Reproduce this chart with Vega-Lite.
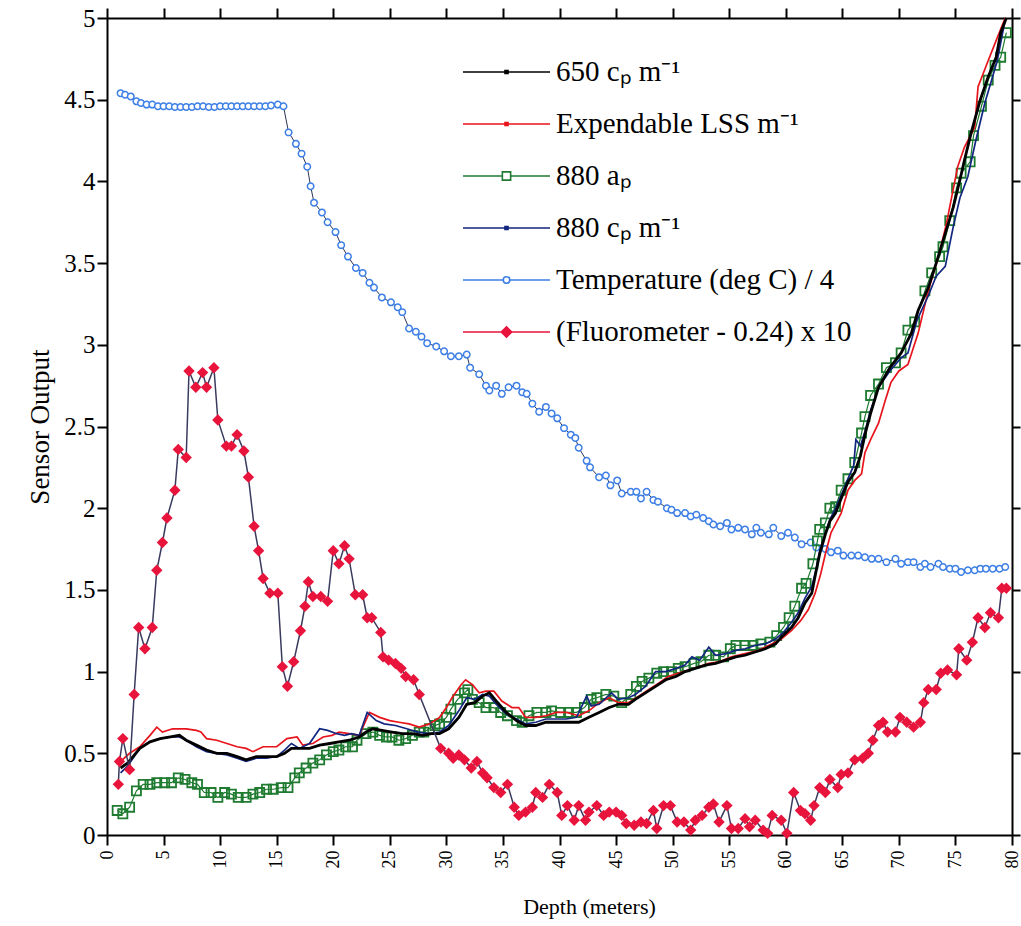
{
  "$schema": "https://vega.github.io/schema/vega-lite/v6.json",
  "width": 905,
  "height": 817,
  "autosize": {"type": "none"},
  "padding": {"left": 107, "top": 18, "right": 9, "bottom": 91},
  "background": "white",
  "config": {
    "view": {"stroke": null},
    "font": "Liberation Serif",
    "axis": {"grid": false, "domainColor": "black", "domainWidth": 2, "tickColor": "black", "tickWidth": 2, "labelColor": "black", "titleColor": "black", "labelFont": "Liberation Serif", "titleFont": "Liberation Serif", "titleFontWeight": "normal"}
  },
  "data": {
    "values": [
      {"series":"temp","depth":1.2,"value":4.54},{"series":"temp","depth":1.6,"value":4.53},{"series":"temp","depth":2.1,"value":4.52},{"series":"temp","depth":2.6,"value":4.49},{"series":"temp","depth":3.0,"value":4.48},{"series":"temp","depth":3.5,"value":4.47},{"series":"temp","depth":4.0,"value":4.47},{"series":"temp","depth":4.5,"value":4.46},{"series":"temp","depth":5.0,"value":4.46},{"series":"temp","depth":5.5,"value":4.46},{"series":"temp","depth":6.0,"value":4.455},{"series":"temp","depth":6.5,"value":4.455},{"series":"temp","depth":7.0,"value":4.455},{"series":"temp","depth":7.5,"value":4.455},{"series":"temp","depth":8.0,"value":4.46},{"series":"temp","depth":8.5,"value":4.46},{"series":"temp","depth":9.0,"value":4.455},{"series":"temp","depth":9.5,"value":4.455},{"series":"temp","depth":10.0,"value":4.46},{"series":"temp","depth":10.5,"value":4.46},{"series":"temp","depth":11.0,"value":4.46},{"series":"temp","depth":11.5,"value":4.46},{"series":"temp","depth":12.0,"value":4.46},{"series":"temp","depth":12.5,"value":4.46},{"series":"temp","depth":13.0,"value":4.46},{"series":"temp","depth":13.5,"value":4.46},{"series":"temp","depth":14.0,"value":4.46},{"series":"temp","depth":14.5,"value":4.465},{"series":"temp","depth":15.1,"value":4.47},{"series":"temp","depth":15.6,"value":4.46},{"series":"temp","depth":16.05,"value":4.3},{"series":"temp","depth":16.7,"value":4.23},{"series":"temp","depth":17.2,"value":4.17},{"series":"temp","depth":17.7,"value":4.09},{"series":"temp","depth":18.0,"value":3.97},{"series":"temp","depth":18.3,"value":3.87},{"series":"temp","depth":19.0,"value":3.81},{"series":"temp","depth":19.5,"value":3.75},{"series":"temp","depth":20.2,"value":3.69},{"series":"temp","depth":20.7,"value":3.61},{"series":"temp","depth":21.3,"value":3.54},{"series":"temp","depth":22.0,"value":3.47},{"series":"temp","depth":22.6,"value":3.44},{"series":"temp","depth":23.2,"value":3.38},{"series":"temp","depth":23.6,"value":3.35},{"series":"temp","depth":24.3,"value":3.29},{"series":"temp","depth":25.1,"value":3.26},{"series":"temp","depth":25.7,"value":3.23},{"series":"temp","depth":26.1,"value":3.2},{"series":"temp","depth":26.7,"value":3.1},{"series":"temp","depth":27.3,"value":3.08},{"series":"temp","depth":27.8,"value":3.05},{"series":"temp","depth":28.3,"value":3.01},{"series":"temp","depth":29.1,"value":2.99},{"series":"temp","depth":29.8,"value":2.96},{"series":"temp","depth":30.4,"value":2.93},{"series":"temp","depth":31.1,"value":2.93},{"series":"temp","depth":31.8,"value":2.94},{"series":"temp","depth":32.1,"value":2.86},{"series":"temp","depth":32.9,"value":2.82},{"series":"temp","depth":33.5,"value":2.75},{"series":"temp","depth":33.8,"value":2.72},{"series":"temp","depth":34.4,"value":2.75},{"series":"temp","depth":34.9,"value":2.7},{"series":"temp","depth":35.5,"value":2.74},{"series":"temp","depth":36.2,"value":2.75},{"series":"temp","depth":36.7,"value":2.71},{"series":"temp","depth":37.1,"value":2.7},{"series":"temp","depth":37.6,"value":2.64},{"series":"temp","depth":38.2,"value":2.59},{"series":"temp","depth":38.8,"value":2.62},{"series":"temp","depth":39.3,"value":2.58},{"series":"temp","depth":39.8,"value":2.55},{"series":"temp","depth":40.4,"value":2.49},{"series":"temp","depth":41.0,"value":2.45},{"series":"temp","depth":41.4,"value":2.43},{"series":"temp","depth":41.7,"value":2.37},{"series":"temp","depth":42.4,"value":2.29},{"series":"temp","depth":42.7,"value":2.25},{"series":"temp","depth":43.5,"value":2.19},{"series":"temp","depth":44.1,"value":2.2},{"series":"temp","depth":44.5,"value":2.14},{"series":"temp","depth":45.1,"value":2.17},{"series":"temp","depth":45.5,"value":2.09},{"series":"temp","depth":46.3,"value":2.1},{"series":"temp","depth":46.8,"value":2.1},{"series":"temp","depth":47.2,"value":2.06},{"series":"temp","depth":47.7,"value":2.1},{"series":"temp","depth":48.3,"value":2.05},{"series":"temp","depth":48.7,"value":2.04},{"series":"temp","depth":49.5,"value":2.0},{"series":"temp","depth":49.9,"value":1.99},{"series":"temp","depth":50.4,"value":1.97},{"series":"temp","depth":51.1,"value":1.97},{"series":"temp","depth":51.6,"value":1.95},{"series":"temp","depth":52.1,"value":1.96},{"series":"temp","depth":52.7,"value":1.94},{"series":"temp","depth":53.2,"value":1.92},{"series":"temp","depth":53.6,"value":1.9},{"series":"temp","depth":54.2,"value":1.89},{"series":"temp","depth":54.8,"value":1.91},{"series":"temp","depth":55.2,"value":1.87},{"series":"temp","depth":55.8,"value":1.88},{"series":"temp","depth":56.4,"value":1.87},{"series":"temp","depth":57.0,"value":1.84},{"series":"temp","depth":57.4,"value":1.88},{"series":"temp","depth":57.8,"value":1.85},{"series":"temp","depth":58.5,"value":1.84},{"series":"temp","depth":58.9,"value":1.88},{"series":"temp","depth":59.6,"value":1.83},{"series":"temp","depth":60.2,"value":1.85},{"series":"temp","depth":60.8,"value":1.82},{"series":"temp","depth":61.4,"value":1.78},{"series":"temp","depth":62.2,"value":1.79},{"series":"temp","depth":62.7,"value":1.76},{"series":"temp","depth":63.5,"value":1.75},{"series":"temp","depth":64.0,"value":1.73},{"series":"temp","depth":64.6,"value":1.74},{"series":"temp","depth":65.1,"value":1.71},{"series":"temp","depth":65.8,"value":1.71},{"series":"temp","depth":66.4,"value":1.71},{"series":"temp","depth":67.0,"value":1.7},{"series":"temp","depth":67.6,"value":1.69},{"series":"temp","depth":68.2,"value":1.69},{"series":"temp","depth":68.9,"value":1.67},{"series":"temp","depth":69.7,"value":1.69},{"series":"temp","depth":70.2,"value":1.66},{"series":"temp","depth":70.8,"value":1.67},{"series":"temp","depth":71.3,"value":1.67},{"series":"temp","depth":71.9,"value":1.64},{"series":"temp","depth":72.3,"value":1.66},{"series":"temp","depth":72.8,"value":1.64},{"series":"temp","depth":73.5,"value":1.66},{"series":"temp","depth":73.9,"value":1.64},{"series":"temp","depth":74.5,"value":1.63},{"series":"temp","depth":75.0,"value":1.63},{"series":"temp","depth":75.5,"value":1.61},{"series":"temp","depth":76.1,"value":1.62},{"series":"temp","depth":76.7,"value":1.62},{"series":"temp","depth":77.2,"value":1.63},{"series":"temp","depth":77.7,"value":1.63},{"series":"temp","depth":78.3,"value":1.63},{"series":"temp","depth":78.9,"value":1.63},{"series":"temp","depth":79.4,"value":1.64},

      {"series":"fluor","depth":1.0,"value":0.31},{"series":"fluor","depth":1.1,"value":0.45},{"series":"fluor","depth":1.4,"value":0.59},{"series":"fluor","depth":2.0,"value":0.4},{"series":"fluor","depth":2.4,"value":0.86},{"series":"fluor","depth":2.8,"value":1.27},{"series":"fluor","depth":3.35,"value":1.14},{"series":"fluor","depth":4.0,"value":1.27},{"series":"fluor","depth":4.4,"value":1.62},{"series":"fluor","depth":4.9,"value":1.79},{"series":"fluor","depth":5.3,"value":1.94},{"series":"fluor","depth":6.0,"value":2.11},{"series":"fluor","depth":6.3,"value":2.36},{"series":"fluor","depth":7.0,"value":2.31},{"series":"fluor","depth":7.25,"value":2.84},{"series":"fluor","depth":7.85,"value":2.74},{"series":"fluor","depth":8.45,"value":2.83},{"series":"fluor","depth":8.8,"value":2.74},{"series":"fluor","depth":9.45,"value":2.86},{"series":"fluor","depth":9.8,"value":2.54},{"series":"fluor","depth":10.55,"value":2.38},{"series":"fluor","depth":11.0,"value":2.38},{"series":"fluor","depth":11.5,"value":2.45},{"series":"fluor","depth":12.1,"value":2.35},{"series":"fluor","depth":12.5,"value":2.19},{"series":"fluor","depth":13.0,"value":1.89},{"series":"fluor","depth":13.4,"value":1.74},{"series":"fluor","depth":13.8,"value":1.57},{"series":"fluor","depth":14.4,"value":1.48},{"series":"fluor","depth":15.1,"value":1.48},{"series":"fluor","depth":15.5,"value":1.03},{"series":"fluor","depth":15.95,"value":0.91},{"series":"fluor","depth":16.5,"value":1.06},{"series":"fluor","depth":17.1,"value":1.25},{"series":"fluor","depth":17.5,"value":1.4},{"series":"fluor","depth":17.8,"value":1.55},{"series":"fluor","depth":18.2,"value":1.46},{"series":"fluor","depth":18.9,"value":1.46},{"series":"fluor","depth":19.5,"value":1.43},{"series":"fluor","depth":20.0,"value":1.74},{"series":"fluor","depth":20.5,"value":1.66},{"series":"fluor","depth":21.0,"value":1.77},{"series":"fluor","depth":21.4,"value":1.69},{"series":"fluor","depth":21.95,"value":1.47},{"series":"fluor","depth":22.6,"value":1.47},{"series":"fluor","depth":23.0,"value":1.33},{"series":"fluor","depth":23.4,"value":1.33},{"series":"fluor","depth":24.2,"value":1.24},{"series":"fluor","depth":24.4,"value":1.09},{"series":"fluor","depth":24.9,"value":1.07},{"series":"fluor","depth":25.5,"value":1.05},{"series":"fluor","depth":26.0,"value":1.02},{"series":"fluor","depth":26.4,"value":0.97},{"series":"fluor","depth":27.1,"value":0.95},{"series":"fluor","depth":27.6,"value":0.86},{"series":"fluor","depth":29.5,"value":0.53},{"series":"fluor","depth":30.2,"value":0.5},{"series":"fluor","depth":30.6,"value":0.47},{"series":"fluor","depth":31.1,"value":0.49},{"series":"fluor","depth":31.6,"value":0.46},{"series":"fluor","depth":32.2,"value":0.41},{"series":"fluor","depth":32.7,"value":0.45},{"series":"fluor","depth":33.2,"value":0.38},{"series":"fluor","depth":33.6,"value":0.35},{"series":"fluor","depth":34.2,"value":0.29},{"series":"fluor","depth":34.8,"value":0.26},{"series":"fluor","depth":35.4,"value":0.31},{"series":"fluor","depth":36.0,"value":0.17},{"series":"fluor","depth":36.4,"value":0.12},{"series":"fluor","depth":37.0,"value":0.14},{"series":"fluor","depth":37.6,"value":0.17},{"series":"fluor","depth":37.9,"value":0.26},{"series":"fluor","depth":38.5,"value":0.23},{"series":"fluor","depth":39.1,"value":0.31},{"series":"fluor","depth":39.8,"value":0.26},{"series":"fluor","depth":40.2,"value":0.12},{"series":"fluor","depth":40.7,"value":0.18},{"series":"fluor","depth":41.3,"value":0.09},{"series":"fluor","depth":41.7,"value":0.18},{"series":"fluor","depth":42.3,"value":0.09},{"series":"fluor","depth":42.6,"value":0.14},{"series":"fluor","depth":43.3,"value":0.18},{"series":"fluor","depth":43.9,"value":0.12},{"series":"fluor","depth":44.4,"value":0.14},{"series":"fluor","depth":45.0,"value":0.14},{"series":"fluor","depth":45.5,"value":0.12},{"series":"fluor","depth":45.9,"value":0.07},{"series":"fluor","depth":46.6,"value":0.06},{"series":"fluor","depth":47.2,"value":0.08},{"series":"fluor","depth":47.7,"value":0.07},{"series":"fluor","depth":48.3,"value":0.15},{"series":"fluor","depth":48.6,"value":0.04},{"series":"fluor","depth":49.2,"value":0.18},{"series":"fluor","depth":49.8,"value":0.18},{"series":"fluor","depth":50.4,"value":0.08},{"series":"fluor","depth":51.0,"value":0.08},{"series":"fluor","depth":51.6,"value":0.03},{"series":"fluor","depth":52.0,"value":0.09},{"series":"fluor","depth":52.6,"value":0.12},{"series":"fluor","depth":53.2,"value":0.17},{"series":"fluor","depth":53.6,"value":0.19},{"series":"fluor","depth":54.1,"value":0.08},{"series":"fluor","depth":54.8,"value":0.18},{"series":"fluor","depth":55.2,"value":0.04},{"series":"fluor","depth":55.8,"value":0.04},{"series":"fluor","depth":56.4,"value":0.1},{"series":"fluor","depth":56.8,"value":0.05},{"series":"fluor","depth":57.3,"value":0.09},{"series":"fluor","depth":58.0,"value":0.03},{"series":"fluor","depth":58.4,"value":0.01},{"series":"fluor","depth":58.8,"value":0.12},{"series":"fluor","depth":59.6,"value":0.09},{"series":"fluor","depth":60.1,"value":0.01},{"series":"fluor","depth":60.7,"value":0.26},{"series":"fluor","depth":61.3,"value":0.15},{"series":"fluor","depth":61.7,"value":0.13},{"series":"fluor","depth":62.2,"value":0.09},{"series":"fluor","depth":62.5,"value":0.18},{"series":"fluor","depth":63.0,"value":0.29},{"series":"fluor","depth":63.5,"value":0.26},{"series":"fluor","depth":63.9,"value":0.34},{"series":"fluor","depth":64.6,"value":0.29},{"series":"fluor","depth":64.9,"value":0.37},{"series":"fluor","depth":65.5,"value":0.38},{"series":"fluor","depth":66.1,"value":0.46},{"series":"fluor","depth":66.8,"value":0.47},{"series":"fluor","depth":67.3,"value":0.5},{"series":"fluor","depth":67.7,"value":0.58},{"series":"fluor","depth":68.2,"value":0.67},{"series":"fluor","depth":68.6,"value":0.69},{"series":"fluor","depth":69.0,"value":0.63},{"series":"fluor","depth":69.7,"value":0.63},{"series":"fluor","depth":70.1,"value":0.72},{"series":"fluor","depth":70.7,"value":0.69},{"series":"fluor","depth":71.3,"value":0.66},{"series":"fluor","depth":71.9,"value":0.69},{"series":"fluor","depth":72.2,"value":0.81},{"series":"fluor","depth":72.6,"value":0.89},{"series":"fluor","depth":73.3,"value":0.89},{"series":"fluor","depth":73.7,"value":0.99},{"series":"fluor","depth":74.3,"value":1.01},{"series":"fluor","depth":75.1,"value":0.98},{"series":"fluor","depth":75.3,"value":1.14},{"series":"fluor","depth":76.0,"value":1.07},{"series":"fluor","depth":76.5,"value":1.18},{"series":"fluor","depth":77.0,"value":1.33},{"series":"fluor","depth":77.6,"value":1.27},{"series":"fluor","depth":78.1,"value":1.36},{"series":"fluor","depth":78.8,"value":1.33},{"series":"fluor","depth":79.1,"value":1.51},{"series":"fluor","depth":79.5,"value":1.51},

      {"series":"c650","depth":1.2,"value":0.41},{"series":"c650","depth":1.8,"value":0.44},{"series":"c650","depth":2.3,"value":0.48},{"series":"c650","depth":2.9,"value":0.53},{"series":"c650","depth":3.8,"value":0.57},{"series":"c650","depth":4.7,"value":0.59},{"series":"c650","depth":5.6,"value":0.6},{"series":"c650","depth":6.4,"value":0.61},{"series":"c650","depth":7.0,"value":0.58},{"series":"c650","depth":7.9,"value":0.55},{"series":"c650","depth":8.8,"value":0.52},{"series":"c650","depth":9.7,"value":0.5},{"series":"c650","depth":10.6,"value":0.5},{"series":"c650","depth":11.5,"value":0.48},{"series":"c650","depth":12.3,"value":0.46},{"series":"c650","depth":13.2,"value":0.48},{"series":"c650","depth":14.1,"value":0.48},{"series":"c650","depth":15.0,"value":0.48},{"series":"c650","depth":15.7,"value":0.5},{"series":"c650","depth":16.3,"value":0.53},{"series":"c650","depth":17.0,"value":0.53},{"series":"c650","depth":17.9,"value":0.53},{"series":"c650","depth":18.8,"value":0.55},{"series":"c650","depth":19.7,"value":0.56},{"series":"c650","depth":20.5,"value":0.57},{"series":"c650","depth":21.4,"value":0.58},{"series":"c650","depth":22.3,"value":0.6},{"series":"c650","depth":22.9,"value":0.63},{"series":"c650","depth":23.5,"value":0.65},{"series":"c650","depth":24.3,"value":0.64},{"series":"c650","depth":25.2,"value":0.63},{"series":"c650","depth":26.1,"value":0.62},{"series":"c650","depth":27.0,"value":0.62},{"series":"c650","depth":27.9,"value":0.61},{"series":"c650","depth":28.7,"value":0.62},{"series":"c650","depth":29.4,"value":0.62},{"series":"c650","depth":30.2,"value":0.65},{"series":"c650","depth":31.1,"value":0.72},{"series":"c650","depth":31.8,"value":0.8},{"series":"c650","depth":32.5,"value":0.81},{"series":"c650","depth":33.2,"value":0.85},{"series":"c650","depth":33.8,"value":0.87},{"series":"c650","depth":34.4,"value":0.82},{"series":"c650","depth":35.3,"value":0.75},{"series":"c650","depth":36.2,"value":0.7},{"series":"c650","depth":37.0,"value":0.67},{"series":"c650","depth":37.9,"value":0.67},{"series":"c650","depth":38.8,"value":0.69},{"series":"c650","depth":39.7,"value":0.69},{"series":"c650","depth":40.6,"value":0.69},{"series":"c650","depth":41.7,"value":0.69},{"series":"c650","depth":42.6,"value":0.72},{"series":"c650","depth":43.5,"value":0.75},{"series":"c650","depth":44.4,"value":0.78},{"series":"c650","depth":45.2,"value":0.8},{"series":"c650","depth":46.1,"value":0.8},{"series":"c650","depth":46.7,"value":0.83},{"series":"c650","depth":47.6,"value":0.87},{"series":"c650","depth":48.5,"value":0.91},{"series":"c650","depth":49.4,"value":0.95},{"series":"c650","depth":50.3,"value":0.97},{"series":"c650","depth":51.1,"value":1.0},{"series":"c650","depth":52.0,"value":1.02},{"series":"c650","depth":52.9,"value":1.04},{"series":"c650","depth":53.8,"value":1.05},{"series":"c650","depth":54.7,"value":1.07},{"series":"c650","depth":55.6,"value":1.09},{"series":"c650","depth":56.4,"value":1.1},{"series":"c650","depth":57.3,"value":1.12},{"series":"c650","depth":58.2,"value":1.14},{"series":"c650","depth":59.1,"value":1.17},{"series":"c650","depth":59.6,"value":1.21},{"series":"c650","depth":60.5,"value":1.27},{"series":"c650","depth":61.1,"value":1.33},{"series":"c650","depth":61.7,"value":1.42},{"series":"c650","depth":62.3,"value":1.48},{"series":"c650","depth":62.7,"value":1.62},{"series":"c650","depth":63.0,"value":1.72},{"series":"c650","depth":63.5,"value":1.84},{"series":"c650","depth":63.9,"value":1.92},{"series":"c650","depth":64.4,"value":1.97},{"series":"c650","depth":64.9,"value":2.06},{"series":"c650","depth":65.5,"value":2.16},{"series":"c650","depth":66.1,"value":2.22},{"series":"c650","depth":66.6,"value":2.32},{"series":"c650","depth":67.0,"value":2.45},{"series":"c650","depth":67.5,"value":2.58},{"series":"c650","depth":68.2,"value":2.74},{"series":"c650","depth":69.2,"value":2.86},{"series":"c650","depth":70.2,"value":2.95},{"series":"c650","depth":71.1,"value":3.07},{"series":"c650","depth":71.7,"value":3.21},{"series":"c650","depth":72.6,"value":3.35},{"series":"c650","depth":73.3,"value":3.5},{"series":"c650","depth":74.1,"value":3.68},{"series":"c650","depth":74.8,"value":3.84},{"series":"c650","depth":75.4,"value":4.01},{"series":"c650","depth":75.8,"value":4.13},{"series":"c650","depth":76.4,"value":4.3},{"series":"c650","depth":77.2,"value":4.5},{"series":"c650","depth":77.9,"value":4.64},{"series":"c650","depth":78.6,"value":4.76},{"series":"c650","depth":79.0,"value":4.91},{"series":"c650","depth":79.5,"value":5.0},

      {"series":"lss","depth":1.2,"value":0.45},{"series":"lss","depth":2.0,"value":0.5},{"series":"lss","depth":2.9,"value":0.54},{"series":"lss","depth":3.8,"value":0.61},{"series":"lss","depth":4.4,"value":0.66},{"series":"lss","depth":4.9,"value":0.63},{"series":"lss","depth":5.8,"value":0.65},{"series":"lss","depth":7.0,"value":0.65},{"series":"lss","depth":7.9,"value":0.64},{"series":"lss","depth":8.3,"value":0.63},{"series":"lss","depth":8.8,"value":0.59},{"series":"lss","depth":9.7,"value":0.58},{"series":"lss","depth":10.6,"value":0.56},{"series":"lss","depth":11.5,"value":0.54},{"series":"lss","depth":12.3,"value":0.53},{"series":"lss","depth":12.9,"value":0.51},{"series":"lss","depth":13.8,"value":0.54},{"series":"lss","depth":15.0,"value":0.54},{"series":"lss","depth":15.9,"value":0.59},{"series":"lss","depth":16.8,"value":0.6},{"series":"lss","depth":17.3,"value":0.55},{"series":"lss","depth":18.2,"value":0.56},{"series":"lss","depth":19.1,"value":0.6},{"series":"lss","depth":19.9,"value":0.61},{"series":"lss","depth":20.5,"value":0.63},{"series":"lss","depth":21.4,"value":0.62},{"series":"lss","depth":22.3,"value":0.61},{"series":"lss","depth":23.2,"value":0.75},{"series":"lss","depth":24.1,"value":0.72},{"series":"lss","depth":25.0,"value":0.7},{"series":"lss","depth":25.8,"value":0.69},{"series":"lss","depth":26.7,"value":0.68},{"series":"lss","depth":27.6,"value":0.66},{"series":"lss","depth":28.5,"value":0.68},{"series":"lss","depth":29.4,"value":0.72},{"series":"lss","depth":30.0,"value":0.78},{"series":"lss","depth":30.5,"value":0.84},{"series":"lss","depth":31.3,"value":0.92},{"series":"lss","depth":31.7,"value":0.95},{"series":"lss","depth":32.3,"value":0.92},{"series":"lss","depth":32.9,"value":0.87},{"series":"lss","depth":33.5,"value":0.88},{"series":"lss","depth":34.2,"value":0.88},{"series":"lss","depth":34.9,"value":0.82},{"series":"lss","depth":35.8,"value":0.78},{"series":"lss","depth":36.4,"value":0.78},{"series":"lss","depth":37.0,"value":0.72},{"series":"lss","depth":37.9,"value":0.72},{"series":"lss","depth":38.8,"value":0.73},{"series":"lss","depth":39.7,"value":0.75},{"series":"lss","depth":40.6,"value":0.75},{"series":"lss","depth":41.7,"value":0.73},{"series":"lss","depth":42.6,"value":0.76},{"series":"lss","depth":43.5,"value":0.81},{"series":"lss","depth":44.4,"value":0.84},{"series":"lss","depth":45.2,"value":0.81},{"series":"lss","depth":46.1,"value":0.81},{"series":"lss","depth":47.0,"value":0.85},{"series":"lss","depth":47.9,"value":0.89},{"series":"lss","depth":48.8,"value":0.93},{"series":"lss","depth":49.6,"value":0.97},{"series":"lss","depth":50.5,"value":0.99},{"series":"lss","depth":51.4,"value":1.01},{"series":"lss","depth":52.3,"value":1.03},{"series":"lss","depth":53.2,"value":1.05},{"series":"lss","depth":54.1,"value":1.06},{"series":"lss","depth":55.2,"value":1.09},{"series":"lss","depth":56.4,"value":1.11},{"series":"lss","depth":57.6,"value":1.13},{"series":"lss","depth":58.8,"value":1.17},{"series":"lss","depth":59.6,"value":1.2},{"series":"lss","depth":60.5,"value":1.25},{"series":"lss","depth":61.3,"value":1.31},{"series":"lss","depth":62.0,"value":1.38},{"series":"lss","depth":62.6,"value":1.48},{"series":"lss","depth":63.1,"value":1.6},{"series":"lss","depth":63.5,"value":1.72},{"series":"lss","depth":64.0,"value":1.85},{"series":"lss","depth":64.9,"value":1.97},{"series":"lss","depth":65.5,"value":2.11},{"series":"lss","depth":66.1,"value":2.17},{"series":"lss","depth":66.7,"value":2.21},{"series":"lss","depth":67.0,"value":2.34},{"series":"lss","depth":67.5,"value":2.42},{"series":"lss","depth":68.2,"value":2.52},{"series":"lss","depth":68.8,"value":2.66},{"series":"lss","depth":69.3,"value":2.77},{"series":"lss","depth":70.0,"value":2.84},{"series":"lss","depth":70.8,"value":2.88},{"series":"lss","depth":71.7,"value":3.07},{"series":"lss","depth":72.6,"value":3.33},{"series":"lss","depth":73.5,"value":3.54},{"series":"lss","depth":74.2,"value":3.74},{"series":"lss","depth":75.2,"value":4.09},{"series":"lss","depth":75.8,"value":4.21},{"series":"lss","depth":76.7,"value":4.33},{"series":"lss","depth":77.0,"value":4.58},{"series":"lss","depth":77.9,"value":4.74},{"series":"lss","depth":78.7,"value":4.88},{"series":"lss","depth":79.4,"value":5.0},

      {"series":"c880","depth":1.2,"value":0.38},{"series":"c880","depth":1.8,"value":0.42},{"series":"c880","depth":2.3,"value":0.47},{"series":"c880","depth":2.9,"value":0.53},{"series":"c880","depth":3.8,"value":0.57},{"series":"c880","depth":4.7,"value":0.59},{"series":"c880","depth":5.6,"value":0.6},{"series":"c880","depth":6.4,"value":0.6},{"series":"c880","depth":7.0,"value":0.58},{"series":"c880","depth":7.9,"value":0.54},{"series":"c880","depth":8.8,"value":0.51},{"series":"c880","depth":9.7,"value":0.5},{"series":"c880","depth":10.6,"value":0.49},{"series":"c880","depth":11.5,"value":0.47},{"series":"c880","depth":12.3,"value":0.45},{"series":"c880","depth":13.2,"value":0.47},{"series":"c880","depth":14.1,"value":0.47},{"series":"c880","depth":15.0,"value":0.48},{"series":"c880","depth":15.7,"value":0.52},{"series":"c880","depth":16.3,"value":0.56},{"series":"c880","depth":17.0,"value":0.53},{"series":"c880","depth":17.9,"value":0.56},{"series":"c880","depth":18.8,"value":0.65},{"series":"c880","depth":19.5,"value":0.64},{"series":"c880","depth":20.3,"value":0.62},{"series":"c880","depth":21.0,"value":0.61},{"series":"c880","depth":21.6,"value":0.62},{"series":"c880","depth":22.3,"value":0.61},{"series":"c880","depth":23.0,"value":0.75},{"series":"c880","depth":23.8,"value":0.7},{"series":"c880","depth":24.5,"value":0.68},{"series":"c880","depth":25.5,"value":0.67},{"series":"c880","depth":26.5,"value":0.65},{"series":"c880","depth":27.5,"value":0.63},{"series":"c880","depth":28.5,"value":0.62},{"series":"c880","depth":29.4,"value":0.63},{"series":"c880","depth":30.2,"value":0.67},{"series":"c880","depth":31.1,"value":0.76},{"series":"c880","depth":31.8,"value":0.84},{"series":"c880","depth":32.5,"value":0.83},{"series":"c880","depth":33.2,"value":0.86},{"series":"c880","depth":33.8,"value":0.85},{"series":"c880","depth":34.4,"value":0.8},{"series":"c880","depth":35.3,"value":0.74},{"series":"c880","depth":36.2,"value":0.71},{"series":"c880","depth":37.0,"value":0.68},{"series":"c880","depth":37.9,"value":0.69},{"series":"c880","depth":38.8,"value":0.71},{"series":"c880","depth":39.7,"value":0.71},{"series":"c880","depth":40.6,"value":0.71},{"series":"c880","depth":41.5,"value":0.72},{"series":"c880","depth":42.4,"value":0.85},{"series":"c880","depth":42.8,"value":0.79},{"series":"c880","depth":43.5,"value":0.8},{"series":"c880","depth":44.6,"value":0.87},{"series":"c880","depth":45.2,"value":0.83},{"series":"c880","depth":46.1,"value":0.84},{"series":"c880","depth":46.7,"value":0.86},{"series":"c880","depth":47.6,"value":0.91},{"series":"c880","depth":48.5,"value":1.0},{"series":"c880","depth":49.4,"value":1.0},{"series":"c880","depth":50.3,"value":1.02},{"series":"c880","depth":51.1,"value":1.04},{"series":"c880","depth":51.7,"value":1.09},{"series":"c880","depth":52.4,"value":1.07},{"series":"c880","depth":53.2,"value":1.15},{"series":"c880","depth":53.8,"value":1.1},{"series":"c880","depth":54.7,"value":1.11},{"series":"c880","depth":55.6,"value":1.13},{"series":"c880","depth":56.4,"value":1.14},{"series":"c880","depth":57.3,"value":1.16},{"series":"c880","depth":58.2,"value":1.17},{"series":"c880","depth":59.1,"value":1.2},{"series":"c880","depth":59.8,"value":1.24},{"series":"c880","depth":60.5,"value":1.3},{"series":"c880","depth":61.1,"value":1.36},{"series":"c880","depth":61.7,"value":1.45},{"series":"c880","depth":62.3,"value":1.52},{"series":"c880","depth":62.7,"value":1.63},{"series":"c880","depth":63.0,"value":1.74},{"series":"c880","depth":63.5,"value":1.85},{"series":"c880","depth":63.9,"value":1.93},{"series":"c880","depth":64.4,"value":2.0},{"series":"c880","depth":64.9,"value":2.08},{"series":"c880","depth":65.5,"value":2.18},{"series":"c880","depth":66.0,"value":2.26},{"series":"c880","depth":66.2,"value":2.42},{"series":"c880","depth":66.6,"value":2.38},{"series":"c880","depth":67.0,"value":2.47},{"series":"c880","depth":67.5,"value":2.6},{"series":"c880","depth":68.2,"value":2.74},{"series":"c880","depth":69.2,"value":2.84},{"series":"c880","depth":70.2,"value":2.92},{"series":"c880","depth":70.8,"value":2.95},{"series":"c880","depth":71.6,"value":3.15},{"series":"c880","depth":72.6,"value":3.3},{"series":"c880","depth":73.3,"value":3.42},{"series":"c880","depth":74.1,"value":3.48},{"series":"c880","depth":74.8,"value":3.72},{"series":"c880","depth":75.4,"value":3.9},{"series":"c880","depth":76.1,"value":4.03},{"series":"c880","depth":76.8,"value":4.25},{"series":"c880","depth":77.6,"value":4.48},{"series":"c880","depth":78.2,"value":4.62},{"series":"c880","depth":78.7,"value":4.74},{"series":"c880","depth":79.4,"value":4.99},

      {"series":"a880","depth":0.9,"value":0.15},{"series":"a880","depth":1.4,"value":0.13},{"series":"a880","depth":2.0,"value":0.17},{"series":"a880","depth":2.6,"value":0.27},{"series":"a880","depth":3.2,"value":0.31},{"series":"a880","depth":3.8,"value":0.31},{"series":"a880","depth":4.4,"value":0.32},{"series":"a880","depth":5.1,"value":0.32},{"series":"a880","depth":5.7,"value":0.32},{"series":"a880","depth":6.3,"value":0.35},{"series":"a880","depth":6.9,"value":0.34},{"series":"a880","depth":7.5,"value":0.32},{"series":"a880","depth":8.0,"value":0.31},{"series":"a880","depth":8.6,"value":0.26},{"series":"a880","depth":9.2,"value":0.26},{"series":"a880","depth":9.8,"value":0.23},{"series":"a880","depth":10.4,"value":0.26},{"series":"a880","depth":11.0,"value":0.25},{"series":"a880","depth":11.6,"value":0.23},{"series":"a880","depth":12.3,"value":0.23},{"series":"a880","depth":12.9,"value":0.25},{"series":"a880","depth":13.5,"value":0.26},{"series":"a880","depth":14.1,"value":0.28},{"series":"a880","depth":14.7,"value":0.28},{"series":"a880","depth":15.4,"value":0.29},{"series":"a880","depth":16.0,"value":0.29},{"series":"a880","depth":16.6,"value":0.35},{"series":"a880","depth":17.0,"value":0.38},{"series":"a880","depth":17.6,"value":0.41},{"series":"a880","depth":18.2,"value":0.44},{"series":"a880","depth":18.8,"value":0.46},{"series":"a880","depth":19.4,"value":0.49},{"series":"a880","depth":20.0,"value":0.51},{"series":"a880","depth":20.5,"value":0.52},{"series":"a880","depth":21.1,"value":0.54},{"series":"a880","depth":21.7,"value":0.54},{"series":"a880","depth":22.1,"value":0.58},{"series":"a880","depth":22.9,"value":0.62},{"series":"a880","depth":23.5,"value":0.63},{"series":"a880","depth":24.1,"value":0.61},{"series":"a880","depth":24.7,"value":0.6},{"series":"a880","depth":25.2,"value":0.6},{"series":"a880","depth":25.8,"value":0.58},{"series":"a880","depth":26.4,"value":0.59},{"series":"a880","depth":27.0,"value":0.61},{"series":"a880","depth":27.6,"value":0.63},{"series":"a880","depth":28.0,"value":0.63},{"series":"a880","depth":28.5,"value":0.65},{"series":"a880","depth":29.0,"value":0.67},{"series":"a880","depth":29.4,"value":0.68},{"series":"a880","depth":30.0,"value":0.72},{"series":"a880","depth":30.4,"value":0.77},{"series":"a880","depth":31.0,"value":0.83},{"series":"a880","depth":31.6,"value":0.87},{"series":"a880","depth":31.9,"value":0.89},{"series":"a880","depth":32.3,"value":0.83},{"series":"a880","depth":32.9,"value":0.81},{"series":"a880","depth":33.5,"value":0.78},{"series":"a880","depth":34.2,"value":0.78},{"series":"a880","depth":34.8,"value":0.75},{"series":"a880","depth":35.4,"value":0.73},{"series":"a880","depth":36.2,"value":0.7},{"series":"a880","depth":36.7,"value":0.69},{"series":"a880","depth":37.3,"value":0.73},{"series":"a880","depth":38.0,"value":0.75},{"series":"a880","depth":38.8,"value":0.75},{"series":"a880","depth":39.3,"value":0.76},{"series":"a880","depth":40.1,"value":0.75},{"series":"a880","depth":40.8,"value":0.75},{"series":"a880","depth":41.5,"value":0.75},{"series":"a880","depth":42.2,"value":0.78},{"series":"a880","depth":42.8,"value":0.83},{"series":"a880","depth":43.3,"value":0.84},{"series":"a880","depth":44.1,"value":0.86},{"series":"a880","depth":44.8,"value":0.85},{"series":"a880","depth":45.5,"value":0.81},{"series":"a880","depth":46.3,"value":0.86},{"series":"a880","depth":46.8,"value":0.91},{"series":"a880","depth":47.3,"value":0.94},{"series":"a880","depth":47.9,"value":0.96},{"series":"a880","depth":48.6,"value":0.99},{"series":"a880","depth":49.2,"value":1.0},{"series":"a880","depth":49.9,"value":1.0},{"series":"a880","depth":50.5,"value":1.02},{"series":"a880","depth":51.1,"value":1.03},{"series":"a880","depth":51.9,"value":1.05},{"series":"a880","depth":52.5,"value":1.06},{"series":"a880","depth":53.2,"value":1.1},{"series":"a880","depth":53.8,"value":1.1},{"series":"a880","depth":54.5,"value":1.09},{"series":"a880","depth":55.1,"value":1.14},{"series":"a880","depth":55.6,"value":1.16},{"series":"a880","depth":56.4,"value":1.16},{"series":"a880","depth":57.1,"value":1.16},{"series":"a880","depth":57.8,"value":1.17},{"series":"a880","depth":58.6,"value":1.18},{"series":"a880","depth":59.2,"value":1.22},{"series":"a880","depth":59.8,"value":1.27},{"series":"a880","depth":60.3,"value":1.33},{"series":"a880","depth":60.8,"value":1.4},{"series":"a880","depth":61.4,"value":1.51},{"series":"a880","depth":61.8,"value":1.54},{"series":"a880","depth":62.4,"value":1.66},{"series":"a880","depth":62.8,"value":1.8},{"series":"a880","depth":63.0,"value":1.87},{"series":"a880","depth":63.5,"value":1.91},{"series":"a880","depth":63.9,"value":2.0},{"series":"a880","depth":64.4,"value":2.01},{"series":"a880","depth":64.9,"value":2.11},{"series":"a880","depth":65.5,"value":2.18},{"series":"a880","depth":66.1,"value":2.28},{"series":"a880","depth":66.7,"value":2.46},{"series":"a880","depth":67.0,"value":2.56},{"series":"a880","depth":67.5,"value":2.69},{"series":"a880","depth":68.2,"value":2.76},{"series":"a880","depth":68.9,"value":2.86},{"series":"a880","depth":69.7,"value":2.89},{"series":"a880","depth":70.2,"value":2.95},{"series":"a880","depth":70.8,"value":3.09},{"series":"a880","depth":71.4,"value":3.14},{"series":"a880","depth":72.3,"value":3.33},{"series":"a880","depth":72.9,"value":3.44},{"series":"a880","depth":73.6,"value":3.54},{"series":"a880","depth":73.9,"value":3.6},{"series":"a880","depth":74.5,"value":3.76},{"series":"a880","depth":75.1,"value":3.96},{"series":"a880","depth":75.5,"value":4.05},{"series":"a880","depth":76.3,"value":4.12},{"series":"a880","depth":76.6,"value":4.28},{"series":"a880","depth":77.3,"value":4.46},{"series":"a880","depth":77.9,"value":4.62},{"series":"a880","depth":78.5,"value":4.71},{"series":"a880","depth":79.0,"value":4.76},{"series":"a880","depth":79.5,"value":4.91}
    ]
  },
  "layer": [
    {
      "transform": [{"filter": "datum.series === 'temp'"}],
      "mark": {"type": "line", "color": "#2b3553", "strokeWidth": 1},
      "encoding": {
        "x": {"field": "depth", "type": "quantitative", "scale": {"domain": [0, 80], "nice": false, "zero": false},
              "axis": {"orient": "bottom", "values": [0,5,10,15,20,25,30,35,40,45,50,55,60,65,70,75,80], "format": "d", "labelAngle": 270, "labelFontSize": 18, "tickSize": 10, "labelPadding": 5, "title": "Depth (meters)", "titleFontSize": 22, "titlePadding": 28, "titleX": 482}},
        "y": {"field": "value", "type": "quantitative", "scale": {"domain": [0, 5], "nice": false},
              "axis": {"orient": "left", "values": [0,0.5,1,1.5,2,2.5,3,3.5,4,4.5,5], "format": "~g", "labelFontSize": 25, "tickSize": 10, "labelPadding": 2, "title": "Sensor Output", "titleFontSize": 27, "titlePadding": 9}}
      }
    },
    {
      "transform": [{"filter": "datum.series === 'temp'"}],
      "mark": {"type": "point", "shape": "circle", "filled": false, "color": "#3d7fe6", "fill": "white", "fillOpacity": 1, "size": 42, "strokeWidth": 1.5, "opacity": 1},
      "encoding": {
        "x": {"field": "depth", "type": "quantitative", "axis": {"orient": "top", "values": [0,5,10,15,20,25,30,35,40,45,50,55,60,65,70,75,80], "labels": false, "title": null, "tickSize": 10}},
        "y": {"field": "value", "type": "quantitative", "axis": {"orient": "right", "values": [0,0.5,1,1.5,2,2.5,3,3.5,4,4.5,5], "labels": false, "title": null, "tickSize": 8}}
      }
    },
    {
      "transform": [{"filter": "datum.series === 'a880'"}],
      "mark": {"type": "line", "color": "#1e7b30", "strokeWidth": 1.2},
      "encoding": {
        "x": {"field": "depth", "type": "quantitative", "axis": null},
        "y": {"field": "value", "type": "quantitative", "axis": null}
      }
    },
    {
      "transform": [{"filter": "datum.series === 'a880'"}],
      "mark": {"type": "point", "shape": "square", "filled": false, "color": "#1e7b30", "size": 82, "strokeWidth": 1.8, "opacity": 1},
      "encoding": {
        "x": {"field": "depth", "type": "quantitative", "axis": null},
        "y": {"field": "value", "type": "quantitative", "axis": null}
      }
    },
    {
      "transform": [{"filter": "datum.series === 'lss'"}],
      "mark": {"type": "line", "color": "#e8141c", "strokeWidth": 1.7},
      "encoding": {
        "x": {"field": "depth", "type": "quantitative", "axis": null},
        "y": {"field": "value", "type": "quantitative", "axis": null}
      }
    },
    {
      "transform": [{"filter": "datum.series === 'c880'"}],
      "mark": {"type": "line", "color": "#13267f", "strokeWidth": 1.7},
      "encoding": {
        "x": {"field": "depth", "type": "quantitative", "axis": null},
        "y": {"field": "value", "type": "quantitative", "axis": null}
      }
    },
    {
      "transform": [{"filter": "datum.series === 'c650'"}],
      "mark": {"type": "line", "color": "#000000", "strokeWidth": 2.8},
      "encoding": {
        "x": {"field": "depth", "type": "quantitative", "axis": null},
        "y": {"field": "value", "type": "quantitative", "axis": null}
      }
    },
    {
      "transform": [{"filter": "datum.series === 'fluor'"}],
      "mark": {"type": "line", "color": "#3a3a5e", "strokeWidth": 1.5},
      "encoding": {
        "x": {"field": "depth", "type": "quantitative", "axis": null},
        "y": {"field": "value", "type": "quantitative", "axis": null}
      }
    },
    {
      "transform": [{"filter": "datum.series === 'fluor'"}],
      "mark": {"type": "point", "shape": "diamond", "filled": true, "color": "#e8143c", "size": 130, "opacity": 1},
      "encoding": {
        "x": {"field": "depth", "type": "quantitative", "axis": null},
        "y": {"field": "value", "type": "quantitative", "axis": null}
      }
    },
    {
      "transform": [{"filter": "datum.series === 'legend-only'"}],
      "mark": {"type": "point", "filled": false, "strokeWidth": 1.6, "opacity": 1},
      "encoding": {
        "x": {"field": "depth", "type": "quantitative", "axis": null},
        "y": {"field": "value", "type": "quantitative", "axis": null},
        "color": {"field": "series", "type": "nominal",
          "scale": {"domain": ["c650","lss","a880","c880","temp","fluor"], "range": ["#000000","#e8141c","#1e7b30","#13267f","#3d7fe6","#e8143c"]},
          "legend": {
            "orient": "none", "legendX": 355, "legendY": 40, "title": null, "padding": 0,
            "symbolSize": 7569, "symbolStrokeWidth": 1.6, "symbolOpacity": 1, "clipHeight": 28, "rowPadding": 23, "labelOffset": 5,
            "labelFontSize": 29, "labelFont": "Liberation Serif", "labelColor": "black", "labelLimit": 400,
            "labelExpr": "datum.label === 'c650' ? '650 cₚ m⁻¹' : datum.label === 'lss' ? 'Expendable LSS m⁻¹' : datum.label === 'a880' ? '880 aₚ' : datum.label === 'c880' ? '880 cₚ m⁻¹' : datum.label === 'temp' ? 'Temperature (deg C) / 4' : '(Fluorometer - 0.24) x 10'"
          }
        },
        "shape": {"field": "series", "type": "nominal",
          "scale": {"domain": ["c650","lss","a880","c880","temp","fluor"], "range": [
            "M-1,0H1M-0.035,-0.035H0.035V0.035H-0.035Z",
            "M-1,0H1M-0.035,-0.035H0.035V0.035H-0.035Z",
            "M-1,0H-0.095M0.095,0H1M-0.095,-0.095H0.095V0.095H-0.095Z",
            "M-1,0H1M-0.035,-0.035H0.035V0.035H-0.035Z",
            "M-1,0H-0.075M0.075,0H1M-0.075,0A0.075,0.075 0 1,0 0.075,0A0.075,0.075 0 1,0 -0.075,0Z",
            "M-1,0H1M0,-0.12L0.12,0L0,0.12L-0.12,0ZM0,-0.08L0.08,0L0,0.08L-0.08,0ZM0,-0.04L0.04,0L0,0.04L-0.04,0Z"
          ]},
          "legend": {
            "orient": "none", "legendX": 355, "legendY": 40, "title": null, "padding": 0,
            "symbolSize": 7569, "symbolStrokeWidth": 1.6, "symbolOpacity": 1, "clipHeight": 28, "rowPadding": 23, "labelOffset": 5,
            "labelFontSize": 29, "labelFont": "Liberation Serif", "labelColor": "black", "labelLimit": 400,
            "labelExpr": "datum.label === 'c650' ? '650 cₚ m⁻¹' : datum.label === 'lss' ? 'Expendable LSS m⁻¹' : datum.label === 'a880' ? '880 aₚ' : datum.label === 'c880' ? '880 cₚ m⁻¹' : datum.label === 'temp' ? 'Temperature (deg C) / 4' : '(Fluorometer - 0.24) x 10'"
          }
        }
      }
    }
  ],
  "resolve": {"axis": {"x": "independent", "y": "independent"}}
}
